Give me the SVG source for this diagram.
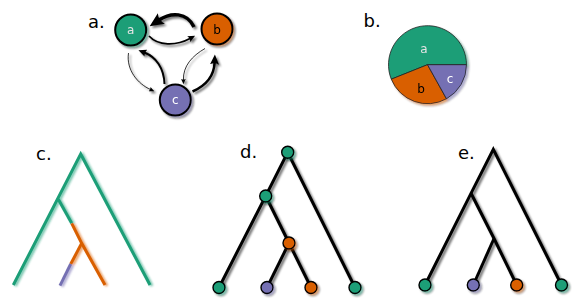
<svg xmlns="http://www.w3.org/2000/svg" width="581" height="308" viewBox="0 0 581 308">
<defs>
<style>
.lbl{font-family:"DejaVu Sans",sans-serif;font-size:18px;fill:#000}
.nl{font-family:"DejaVu Sans",sans-serif;font-size:12px;text-anchor:middle}
.g{fill:#1b9e77}.o{fill:#d95f02}.p{fill:#7570b3}
.big{stroke:#000;stroke-width:2}
.leaf{stroke:#000;stroke-width:1.4}
.arr{fill:none;stroke:#000}
.tr{fill:none;stroke:#000;stroke-width:3;stroke-linecap:butt;stroke-linejoin:miter}
.tc{fill:none;stroke-width:3;stroke-linejoin:miter}
</style>
<filter id="ds" x="-30%" y="-30%" width="170%" height="170%">
<feGaussianBlur in="SourceGraphic" stdDeviation="1.2" result="b"/>
<feOffset in="b" dx="1.5" dy="1.5" result="o"/>
<feComponentTransfer in="o" result="t"><feFuncA type="linear" slope="0.55"/></feComponentTransfer>
<feMerge><feMergeNode in="t"/><feMergeNode in="SourceGraphic"/></feMerge>
</filter>
<filter id="glow" x="-30%" y="-10%" width="160%" height="120%">
<feGaussianBlur in="SourceGraphic" stdDeviation="1.3" result="b"/>
<feOffset in="b" dx="1.5" dy="0.5" result="o"/>
<feComponentTransfer in="o" result="t"><feFuncA type="linear" slope="0.6"/></feComponentTransfer>
<feMerge><feMergeNode in="t"/><feMergeNode in="SourceGraphic"/></feMerge>
</filter>
<marker id="ah" viewBox="0 -2 4 4" refX="0.8" refY="0" markerWidth="4" markerHeight="4" orient="auto" markerUnits="strokeWidth">
<path d="M4,0 L0,-1.8 Q1,0 0,1.8 Z" fill="#000"/>
</marker>
<marker id="as" viewBox="0 -2 4 4" refX="0.8" refY="0" markerWidth="6.5" markerHeight="6.5" orient="auto" markerUnits="strokeWidth">
<path d="M4,0 L0,-1.8 Q1,0 0,1.8 Z" fill="#000"/>
</marker>
</defs>

<rect width="581" height="308" fill="#fff"/>

<g id="labels">
<text class="lbl" x="88" y="27.5">a.</text>
<text class="lbl" x="363.5" y="26.5">b.</text>
<text class="lbl" x="36" y="160">c.</text>
<text class="lbl" x="240" y="158.3">d.</text>
<text class="lbl" x="458" y="159.3">e.</text>
</g>

<!-- panel a -->
<g id="a-connectors" filter="url(#ds)">
<path class="arr" stroke-width="3.5" marker-end="url(#ah)" d="M194,27 C187,12 171,12 159,20"/>
<path class="arr" stroke-width="1.8" marker-end="url(#ah)" d="M149,36 C158,46 176,46 190,38.5"/>
<path class="arr" stroke-width="0.8" marker-end="url(#as)" d="M128.5,53 C126,70 138,84 150.5,89.5"/>
<path class="arr" stroke-width="2" marker-end="url(#ah)" d="M164.5,84 C164,68 156,57 144.4,52.5"/>
<path class="arr" stroke-width="0.8" marker-end="url(#as)" d="M205,48.5 C192,56 183,66 183.4,80"/>
<path class="arr" stroke-width="2.5" marker-end="url(#ah)" d="M192.5,91.5 C205,86 214,78 214.6,62.5"/>
</g>
<g id="node-a" filter="url(#ds)">
<circle class="g big" cx="130.7" cy="30" r="15.5"/>
<text class="nl" x="130.7" y="34.3" fill="#e4e4e4">a</text>
</g>
<g id="node-b" filter="url(#ds)">
<circle class="o big" cx="217" cy="29" r="15.5"/>
<text class="nl" x="217" y="33.5" fill="#000">b</text>
</g>
<g id="node-c" filter="url(#ds)">
<circle class="p big" cx="175.3" cy="100" r="15.5"/>
<text class="nl" x="175.3" y="104.3" fill="#fff">c</text>
</g>

<!-- panel b -->
<g id="pie" filter="url(#ds)" stroke="#222" stroke-width="0.8" stroke-linejoin="round">
<path class="g" d="M427.5,64.7 L466.5,64.7 A39,39 0 1,0 391.3,79.2 Z"/>
<path class="o" d="M427.5,64.7 L391.3,79.2 A39,39 0 0,0 446.5,98.8 Z"/>
<path class="p" d="M427.5,64.7 L446.5,98.8 A39,39 0 0,0 466.5,64.7 Z"/>
<text class="nl" x="424" y="53" fill="#e4e4e4" stroke="none">a</text>
<text class="nl" x="421" y="93.3" fill="#000" stroke="none">b</text>
<text class="nl" x="450" y="83.3" fill="#fff" stroke="none">c</text>
</g>

<!-- panel c -->
<g id="tree-c" filter="url(#glow)">
<polyline class="tc" stroke="#1b9e77" points="13.3,285 80.7,154 150,285"/>
<polyline class="tc" stroke="#1b9e77" points="58.3,199.3 71.7,223.3"/>
<polyline class="tc" stroke="#d95f02" points="71.7,223.3 81.7,243.3 105,285"/>
<polyline class="tc" stroke="#d95f02" points="81.7,243.3 70.7,264"/>
<polyline class="tc" stroke="#7570b3" points="70.7,264 60,285.7"/>
</g>

<!-- panel d -->
<g id="d-connectors" filter="url(#ds)">
<polyline class="tr" points="219,287.5 265.7,196 287.7,152.3 355,287.5"/>
<polyline class="tr" points="265.7,196 289,243 311,287.5"/>
<polyline class="tr" points="289,243 267,287.5"/>
</g>
<g id="d-root" filter="url(#ds)"><circle class="g leaf" cx="287.7" cy="152.3" r="6"/></g>
<g id="d-internal" filter="url(#ds)"><circle class="g leaf" cx="265.7" cy="196" r="6"/></g>
<g id="d-orange" filter="url(#ds)"><circle class="o leaf" cx="289" cy="243" r="6"/></g>
<g id="d-leaf1" filter="url(#ds)"><circle class="g leaf" cx="219" cy="287.5" r="6"/></g>
<g id="d-leaf2" filter="url(#ds)"><circle class="p leaf" cx="267" cy="287.5" r="6"/></g>
<g id="d-leaf3" filter="url(#ds)"><circle class="o leaf" cx="311" cy="287.5" r="6"/></g>
<g id="d-leaf4" filter="url(#ds)"><circle class="g leaf" cx="355" cy="287.5" r="6"/></g>

<!-- panel e -->
<g id="e-connectors" filter="url(#ds)">
<polyline class="tr" points="425,285 471,193.3 493.3,149.3 561.5,285"/>
<polyline class="tr" points="471,193.3 494,238.5 516.7,285"/>
<polyline class="tr" points="494,238.5 473.3,285"/>
</g>
<g id="e-leaf1" filter="url(#ds)"><circle class="g leaf" cx="425" cy="285" r="6"/></g>
<g id="e-leaf2" filter="url(#ds)"><circle class="p leaf" cx="473.3" cy="285" r="6"/></g>
<g id="e-leaf3" filter="url(#ds)"><circle class="o leaf" cx="516.7" cy="285" r="6"/></g>
<g id="e-leaf4" filter="url(#ds)"><circle class="g leaf" cx="561.5" cy="285" r="6"/></g>
</svg>
